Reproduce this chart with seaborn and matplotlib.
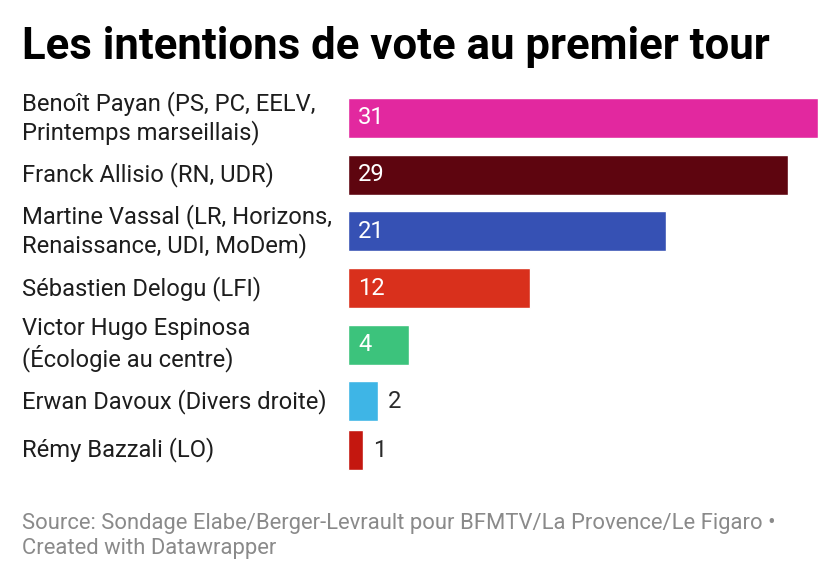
import matplotlib
matplotlib.use("Agg")
import matplotlib.pyplot as plt
import matplotlib.transforms as mtransforms
import seaborn as sns
import pandas as pd
import numpy as np

candidates = [
    "Benoît Payan (PS, PC, EELV,\nPrintemps marseillais)",
    "Franck Allisio (RN, UDR)",
    "Martine Vassal (LR, Horizons,\nRenaissance, UDI, MoDem)",
    "Sébastien Delogu (LFI)",
    "Victor Hugo Espinosa\n(Écologie au centre)",
    "Erwan Davoux (Divers droite)",
    "Rémy Bazzali (LO)",
]
values = [31, 29, 21, 12, 4, 2, 1]
colors = ["#e2289f", "#5e050f", "#3651b4", "#d9301c", "#3cc37c", "#3eb5e6", "#c4170f"]

title = "Les intentions de vote au premier tour"
footer = "Source: Sondage Elabe/Berger-Levrault pour BFMTV/La Provence/Le Figaro •\nCreated with Datawrapper"

# Row layout like Datawrapper: two-line labels make a taller row
n_lines = np.array([c.count("\n") + 1 for c in candidates])
row_h = 1 + (n_lines - 1) / 3.0
row_pos = np.cumsum(row_h) - row_h / 2

df = pd.DataFrame({"candidate": candidates, "value": values, "pos": row_pos})

sns.set_theme(style="white")
plt.rcParams["font.family"] = ["Roboto", "DejaVu Sans"]

W, H = 840, 584
fig = plt.figure(figsize=(W / 100, H / 100), dpi=100)
top_px, bot_px = 85.6, 474.3
ax = fig.add_axes([348 / W, 1 - bot_px / H, (818 - 348) / W, (bot_px - top_px) / H])

sns.barplot(data=df, y="pos", x="value", hue="candidate", palette=colors,
            legend=False, width=0.823, ax=ax, saturation=1, orient="h",
            native_scale=True)

ax.set_xlim(0, max(values))
ax.set_ylim(row_h.sum(), 0)
ax.axis("off")

trans = mtransforms.blended_transform_factory(fig.transFigure, ax.transData)
px = 72 / 100
fs = 23.8 * px
for name, v, y in zip(candidates, values, row_pos):
    ax.text(22 / W, y, name, transform=trans, ha="left", va="center",
            fontsize=fs, color="#1d1d1d", linespacing=1.2)
    offset = mtransforms.offset_copy(ax.transData, fig=fig, x=10 * px, y=0, units="points")
    if v >= 4:
        ax.text(0, y, str(v), transform=offset, ha="left", va="center",
                fontsize=fs, color="white")
    else:
        ax.text(v, y, str(v), transform=offset, ha="left", va="center",
                fontsize=fs, color="#2a2a2a")

fig.text(22 / W, 1 - 47 / H, title, ha="left", va="center", fontsize=43.8 * px,
         fontweight="bold", color="#000000")
fig.text(22 / W, 1 - 536 / H, footer, ha="left", va="center", fontsize=22 * px,
         color="#8a8a8a", linespacing=1.2)

fig.savefig("out.png", dpi=100, facecolor="white")
